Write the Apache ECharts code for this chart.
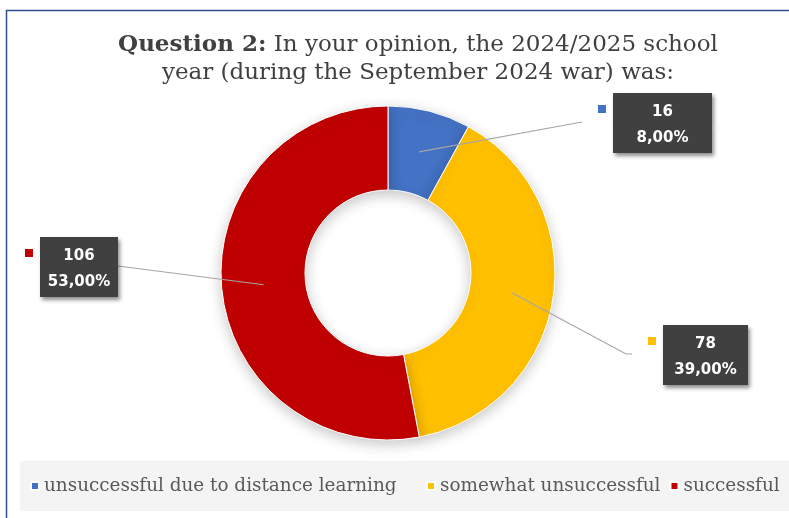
<!DOCTYPE html>
<html>
<head>
<meta charset="utf-8">
<script src="https://cdn.jsdelivr.net/npm/echarts@6/dist/echarts.min.js"></script>
<style>
  html, body { margin: 0; padding: 0; background: #fff; }
  #chart { width: 789px; height: 518px; }
</style>
</head>
<body>
<div id="chart"></div>
<script>
// Survey answers for question 2
const categories = ['unsuccessful due to distance learning', 'somewhat unsuccessful', 'successful'];
const counts = [16, 78, 106];
const shares = ['8,00%', '39,00%', '53,00%'];
const colors = ['#4472C4', '#FFC000', '#C00000'];

// Callout boxes: top-left corner of the dark box, its width, and which side it sits on
const callouts = [
  { x: 613, y: 93, w: 99, side: 'right', elbow: 0 },
  { x: 663, y: 325, w: 85, side: 'right', elbow: 6 },
  { x: 40, y: 237, w: 78, side: 'left', elbow: 0 }
];

const CENTER = [388, 273];
const RADIUS = [83, 167];
const SQ = 8, GAP = 7;

const chart = echarts.init(document.getElementById('chart'), null, { renderer: 'canvas' });

const total = counts.reduce((a, b) => a + b, 0);
function midAngle(i) {
  let before = 0;
  for (let k = 0; k < i; k++) before += counts[k];
  return ((before + counts[i] / 2) / total) * Math.PI * 2; // clockwise from top
}

const boxStyle = (w) => ({
  width: w, height: 26, backgroundColor: '#404040', color: '#ffffff',
  fontFamily: 'DejaVu Sans', fontWeight: 'bold', fontSize: 15, align: 'center',
  shadowColor: 'rgba(0,0,0,0.45)', shadowBlur: 4, shadowOffsetX: 2, shadowOffsetY: 3
});

// Ring slices (no labels)
const ringData = categories.map((name, i) => ({
  name, value: counts[i], itemStyle: { color: colors[i] }
}));

// Transparent overlay ring that carries the callouts, so leader lines sit above the slices
const calloutData = categories.map((name, i) => ({
  name,
  value: counts[i],
  itemStyle: { color: 'rgba(0,0,0,0)' },
  label: {
    formatter: '{sq|}{g|}{v|' + counts[i] + '}\n{sp|}{g|}{p|' + shares[i] + '}',
    rich: {
      sq: { width: SQ, height: SQ, backgroundColor: colors[i] },
      sp: { width: SQ, height: SQ },
      g: { width: GAP },
      v: Object.assign(boxStyle(callouts[i].w), { padding: [6, 0, 0, 0] }),
      p: Object.assign(boxStyle(callouts[i].w), { padding: [0, 0, 2, 0] })
    }
  }
}));

const legendBase = {
  top: 477, padding: 0, itemGap: 9, itemWidth: 8, itemHeight: 8, icon: 'rect',
  textStyle: { fontFamily: 'DejaVu Serif', fontSize: 18.4, color: '#595959' },
  selectedMode: false
};

chart.setOption({
  animation: false,
  backgroundColor: '#ffffff',
  graphic: [
    { type: 'rect', shape: { x: 6.5, y: 10.5, width: 800, height: 520 },
      style: { fill: 'none', stroke: '#2F4E8C', lineWidth: 1.5 }, z: 0 },
    { type: 'rect', shape: { x: 20, y: 461, width: 780, height: 50 },
      style: { fill: '#F4F4F4' }, z: 0 }
  ],
  title: {
    left: 413, top: 26, textAlign: 'center',
    text: '{b|Question 2:} In your opinion, the 2024/2025 school\nyear (during the September 2024 war) was:',
    textStyle: {
      fontFamily: 'DejaVu Serif', fontSize: 23, color: '#404040', lineHeight: 28,
      fontWeight: 'normal',
      rich: { b: { fontFamily: 'DejaVu Serif', fontSize: 23, fontWeight: 'bold', color: '#404040' } }
    }
  },
  legend: [
    Object.assign({}, legendBase, { left: 30, data: [categories[0]] }),
    Object.assign({}, legendBase, { left: 426, data: [categories[1], categories[2]] })
  ],
  series: [{
    type: 'pie',
    z: 2,
    center: CENTER,
    radius: RADIUS,
    startAngle: 90,
    clockwise: true,
    data: ringData,
    itemStyle: { borderColor: '#ffffff', borderWidth: 1, shadowColor: 'rgba(0,0,0,0.22)', shadowBlur: 14, shadowOffsetY: 4 },
    label: { show: false },
    labelLine: { show: false },
    emphasis: { disabled: true }
  }, {
    type: 'pie',
    z: 3,
    silent: true,
    legendHoverLink: false,
    center: CENTER,
    radius: RADIUS,
    startAngle: 90,
    clockwise: true,
    data: calloutData,
    label: { show: true, position: 'outside', color: '#fff' },
    labelLine: { show: true, showAbove: true, length: 10, length2: 10, lineStyle: { color: '#A6A6A6', width: 1.2 } },
    emphasis: { disabled: true },
    labelLayout: function (params) {
      const i = params.dataIndex;
      const c = callouts[i];
      const a = midAngle(i);
      const rMid = (RADIUS[0] + RADIUS[1]) / 2;
      const start = [CENTER[0] + rMid * Math.sin(a), CENTER[1] - rMid * Math.cos(a)];
      const midY = c.y + 29;
      let end, elbow;
      if (c.side === 'right') {
        end = [c.x - SQ - GAP - 16, midY];
        elbow = [end[0] - c.elbow, midY];
      } else {
        end = [c.x + c.w, midY];
        elbow = end;
      }
      return {
        x: c.x - SQ - GAP,
        y: c.y,
        align: 'left',
        verticalAlign: 'top',
        labelLinePoints: [start, elbow, end]
      };
    }
  }]
});
</script>
</body>
</html>
